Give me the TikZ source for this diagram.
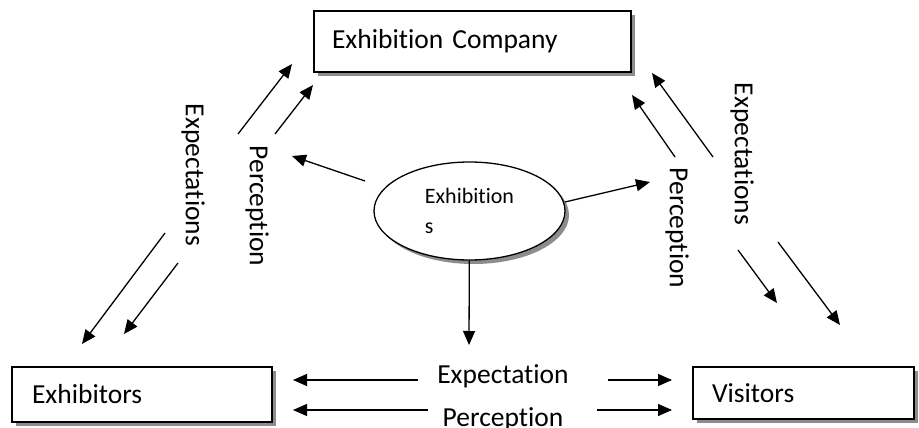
\documentclass[tikz,border=0pt]{standalone}
\usepackage{fontspec}
\setmainfont[Ligatures=NoCommon]{Carlito}
\usetikzlibrary{arrows.meta,shapes.geometric,shadows}
\begin{document}
\begin{tikzpicture}[x=1pt,y=-1pt,
  box/.style={draw, line width=1.4pt, fill=white, align=left, anchor=center,
    drop shadow={shadow xshift=4pt, shadow yshift=-4pt, fill=black!45, opacity=1},
    font=\fontsize{27.5}{32}\selectfont},
  conn/.style={line width=1.3pt, -{Triangle[length=14pt,width=12pt]}},
  lbl/.style={font=\fontsize{27.5}{32}\selectfont, inner sep=0pt}]
\useasboundingbox (0,0) rectangle (919,428);
\fill[white] (0,0) rectangle (919,428);

\node[box, inner xsep=18pt, text width=281pt, minimum height=61pt] (comp) at (472.5,41.5) {Exhibition Company};
\node[box, inner xsep=20pt, text width=220pt, minimum height=55pt] (exh) at (142,394.5) {Exhibitors};
\node[box, inner xsep=19pt, text width=183pt, minimum height=52pt] (vis) at (803.5,393) {Visitors};

\node[ellipse, draw, line width=1.3pt, fill=white, minimum width=191pt, minimum height=98pt,
  align=left, font=\fontsize{22}{30}\selectfont,
  drop shadow={shadow xshift=4pt, shadow yshift=-4pt, fill=black!45, opacity=1}] (ell) at (469.5,211) {Exhibition\\s};

% coordinates
\coordinate (dn) at (469,345);
\coordinate (lA) at (365,181); \coordinate (lB) at (292,156);
\coordinate (rA) at (565,202); \coordinate (rB) at (650,182);
\coordinate (le1a) at (238,134); \coordinate (le1b) at (292,64);
\coordinate (lp1a) at (275,134); \coordinate (lp1b) at (313,85);
\coordinate (le2a) at (165,233); \coordinate (le2b) at (82,344);
\coordinate (lp2a) at (178,263); \coordinate (lp2b) at (124,334);
\coordinate (rp1a) at (675,157); \coordinate (rp1b) at (632,95);
\coordinate (re1a) at (713,157); \coordinate (re1b) at (652,73);
\coordinate (rp2a) at (738,250); \coordinate (rp2b) at (777,303);
\coordinate (re2a) at (778,242); \coordinate (re2b) at (840,325);
\coordinate (beLa) at (418,380); \coordinate (beLb) at (293,380);
\coordinate (beRa) at (608,380); \coordinate (beRb) at (672,380);
\coordinate (bpLa) at (428,410); \coordinate (bpLb) at (293,410);
\coordinate (bpRa) at (597,410); \coordinate (bpRb) at (672,410);

\draw[conn] (ell) -- (dn);
\draw[conn] (lA) -- (lB);
\draw[conn] (rA) -- (rB);
\draw[conn] (le1a) -- (le1b);
\draw[conn] (lp1a) -- (lp1b);
\draw[conn] (le2a) -- (le2b);
\draw[conn] (lp2a) -- (lp2b);
\draw[conn] (rp1a) -- (rp1b);
\draw[conn] (re1a) -- (re1b);
\draw[conn] (rp2a) -- (rp2b);
\draw[conn] (re2a) -- (re2b);
\draw[conn] (beLa) -- (beLb);
\draw[conn] (beRa) -- (beRb);
\draw[conn] (bpLa) -- (bpLb);
\draw[conn] (bpRa) -- (bpRb);

\node[lbl, rotate=-90] (expL) at (193,175) {Expectations};
\node[lbl, rotate=-90] (percL) at (257,206) {Perception};
\node[lbl, rotate=-90] (percR) at (677,228) {Perception};
\node[lbl, rotate=-90] (expR) at (742,154) {Expectations};
\node[lbl, anchor=base] (expB) at (503,383) {Expectation};
\node[lbl, anchor=base] (percB) at (503,426) {Perception};
\end{tikzpicture}
\end{document}
